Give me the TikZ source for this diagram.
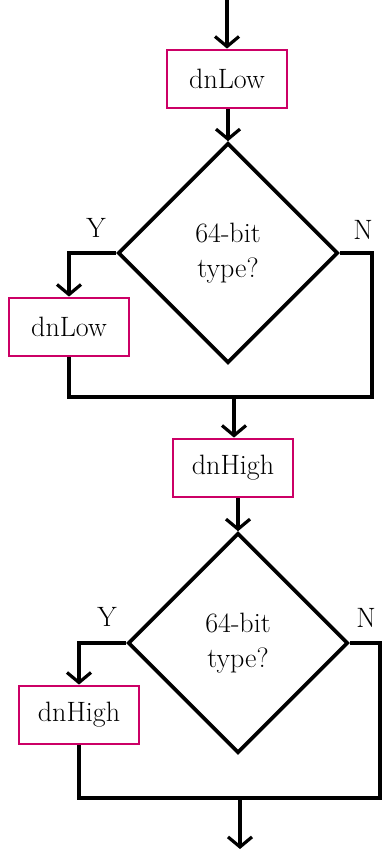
\documentclass[tikz,border=0pt]{standalone}
\usetikzlibrary{shapes.geometric, arrows.meta, positioning, calc}
\definecolor{boxpink}{RGB}{204,0,102}

\begin{document}
\begin{tikzpicture}[x=1pt, y=-1pt,
    every node/.style={font=\fontsize{28}{35}\selectfont},
    box/.style={draw=boxpink, line width=2.8pt, rectangle, minimum width=120pt, minimum height=58pt, inner sep=0pt},
    decision/.style={draw, line width=3.6pt, diamond, aspect=1, minimum width=220pt, minimum height=220pt, inner sep=0pt, align=center},
    flow/.style={line width=3.2pt, -{Straight Barb[length=10pt, width=24pt]}},
    line/.style={line width=3.2pt}]
    \useasboundingbox (0,0) rectangle (381,849);

    \coordinate (start) at (227,0);
    \node [box] (low1) at (227,79) {dnLow};
    \node [decision] (dec1) at (228,253) {64-bit\\type?};
    \node [box] (low2) at (69,327) {dnLow};
    \node (y1) at (96,228) {Y};
    \node (n1) at (363,230) {N};
    \coordinate (r1) at (372,397);
    \coordinate (j1) at (234,397);

    \node [box] (high1) at (233,468) {dnHigh};
    \node [decision] (dec2) at (238,643) {64-bit\\type?};
    \node [box] (high2) at (79,715) {dnHigh};
    \node (y2) at (107,617) {Y};
    \node (n2) at (366,618) {N};
    \coordinate (r2) at (380,798);
    \coordinate (j2) at (240,798);
    \coordinate (end) at (240,849);

    \draw[flow] (start) -- (low1);
    \draw[flow] (low1.south -| dec1.north) -- (dec1.north);
    \draw[flow] (dec1.west) -| (low2.north);
    \draw[line] (dec1.east) -| (r1) -- (low2.south |- r1) -- (low2.south);
    \draw[flow] (j1) -- (high1.north -| j1);

    \draw[flow] (high1.south -| dec2.north) -- (dec2.north);
    \draw[flow] (dec2.west) -| (high2.north);
    \draw[line] (dec2.east) -| (r2) -- (high2.south |- r2) -- (high2.south);
    \draw[flow] (j2) -- (end);
  \end{tikzpicture}
\end{document}
